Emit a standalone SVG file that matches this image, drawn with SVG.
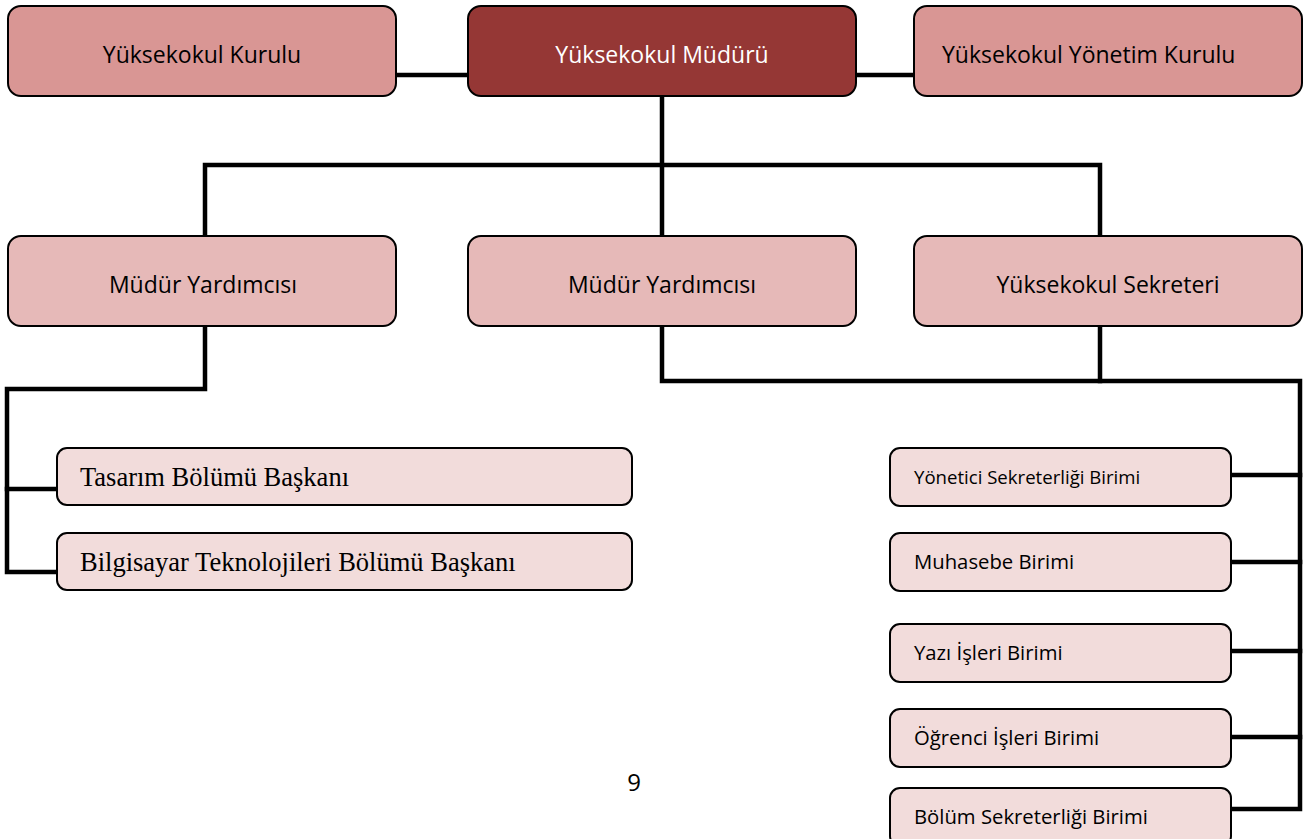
<svg xmlns="http://www.w3.org/2000/svg" width="1315" height="839" viewBox="0 0 1315 839">
<style>
.box{stroke:#000;stroke-width:2}
.top{fill:#D99694}
.head{fill:#953735}
.mid{fill:#E6B9B8}
.low{fill:#F2DCDB}
.t{font-family:"Open Sans","Noto Sans","Liberation Sans",sans-serif;fill:#000}
.big{font-size:23px}
.small{font-size:20.3px}
.serif{font-family:"Liberation Serif","Times New Roman",serif;font-size:26.5px;fill:#000}
.w{fill:#fff}
.c{text-anchor:middle}
.conn{fill:none;stroke:#000;stroke-width:4.5;stroke-linecap:square;stroke-linejoin:miter}
</style>
<rect width="1315" height="839" fill="#fff"/>
<g id="connectors">
<path class="conn" d="M396 75H468"/>
<path class="conn" d="M856 75H914"/>
<path class="conn" d="M662 96V236"/>
<path class="conn" d="M205 236V165H1100V236"/>
<path class="conn" d="M205 326V389H7V572H57"/>
<path class="conn" d="M7 489H57"/>
<path class="conn" d="M662 326V381H1300V809H1231"/>
<path class="conn" d="M1100 326V381"/>
<path class="conn" d="M1231 475H1300"/>
<path class="conn" d="M1231 562H1300"/>
<path class="conn" d="M1231 651H1300"/>
<path class="conn" d="M1231 737H1300"/>
</g>
<g id="yuksekokul-kurulu">
<rect class="box top" x="8" y="6" width="388" height="90" rx="13"/>
<text class="t big c" x="202" y="63">Yüksekokul Kurulu</text>
</g>
<g id="yuksekokul-muduru">
<rect class="box head" x="468" y="6" width="388" height="90" rx="13"/>
<text class="t big c w" x="662" y="63">Yüksekokul Müdürü</text>
</g>
<g id="yuksekokul-yonetim-kurulu">
<rect class="box top" x="914" y="6" width="388" height="90" rx="13"/>
<text class="t big" x="942" y="63">Yüksekokul Yönetim Kurulu</text>
</g>
<g id="mudur-yardimcisi-1">
<rect class="box mid" x="8" y="236" width="388" height="90" rx="13"/>
<text class="t big c" x="203" y="293">Müdür Yardımcısı</text>
</g>
<g id="mudur-yardimcisi-2">
<rect class="box mid" x="468" y="236" width="388" height="90" rx="13"/>
<text class="t big c" x="662" y="293">Müdür Yardımcısı</text>
</g>
<g id="yuksekokul-sekreteri">
<rect class="box mid" x="914" y="236" width="388" height="90" rx="13"/>
<text class="t big c" x="1108" y="293">Yüksekokul Sekreteri</text>
</g>
<g id="tasarim">
<rect class="box low" x="57" y="448" width="575" height="57" rx="10"/>
<text class="serif" x="80" y="486">Tasarım Bölümü Başkanı</text>
</g>
<g id="bilgisayar">
<rect class="box low" x="57" y="533" width="575" height="57" rx="10"/>
<text class="serif" x="80" y="571">Bilgisayar Teknolojileri Bölümü Başkanı</text>
</g>
<g id="yonetici-sekreterligi">
<rect class="box low" x="890" y="448" width="341" height="58" rx="10"/>
<text class="t" font-size="18.6" x="914" y="484">Yönetici Sekreterliği Birimi</text>
</g>
<g id="muhasebe">
<rect class="box low" x="890" y="533" width="341" height="58" rx="10"/>
<text class="t small" x="914" y="569">Muhasebe Birimi</text>
</g>
<g id="yazi-isleri">
<rect class="box low" x="890" y="624" width="341" height="58" rx="10"/>
<text class="t small" x="914" y="660">Yazı İşleri Birimi</text>
</g>
<g id="ogrenci-isleri">
<rect class="box low" x="890" y="709" width="341" height="58" rx="10"/>
<text class="t small" x="914" y="745">Öğrenci İşleri Birimi</text>
</g>
<g id="bolum-sekreterligi">
<rect class="box low" x="890" y="788" width="341" height="58" rx="10"/>
<text class="t small" x="914" y="824">Bölüm Sekreterliği Birimi</text>
</g>
<text class="t c" x="634" y="791" font-size="24">9</text>
</svg>
